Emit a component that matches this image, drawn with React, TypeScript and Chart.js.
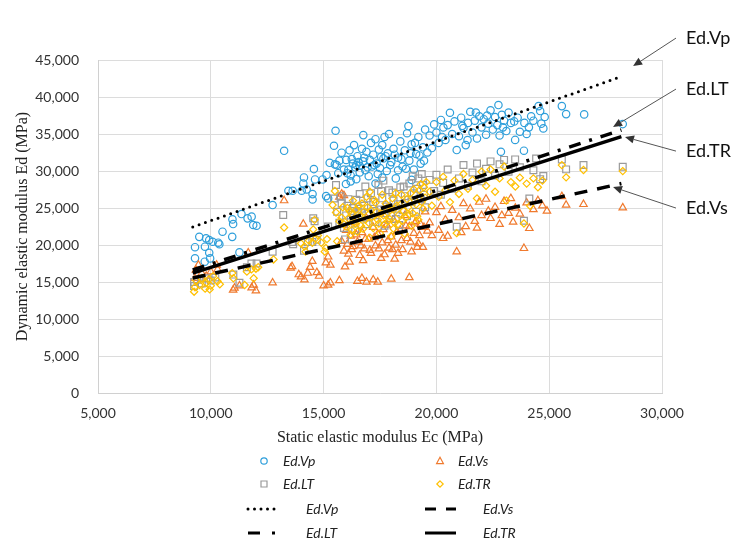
import React, { useEffect, useRef } from "react";
import { Chart, registerables } from "chart.js";

Chart.register(...registerables);

// ---------------- DATA ----------------
const xTickValues = [5000, 10000, 15000, 20000, 25000, 30000];
const yTickValues = [0, 5000, 10000, 15000, 20000, 25000, 30000, 35000, 40000, 45000];

const edVp: [number, number][] = [
  [9300,18200],[9300,19700],[9490,21100],[9740,19770],[9790,20900],[9930,20670],[10080,20440],[9930,18950],[9730,17740],[9970,18190],
  [10330,20310],[10380,20100],[10520,21800],[10950,21100],[10960,23460],[10990,22830],[11360,24180],[11630,23600],[11810,23830],[11880,22700],
  [12030,22600],[11270,19000],[12740,25400],[13250,32730],[13440,27330],[13630,27330],[14030,27330],[14130,29130],[14100,28320],[14250,27510],
  [14510,26880],[14510,26160],[14570,30260],[14620,28860],[14960,28860],[15130,29450],[15110,26610],[15200,26300],[15460,33410],[15530,35440],
  [15270,31110],[15580,30800],[15800,32470],[15700,31400],[15500,30900],[15900,30200],[15650,29700],[15990,28240],
  [16000,31500],[16100,30200],[16150,32800],[16200,29400],[16300,31000],[16350,33500],[16400,30500],[16450,28900],[16500,32000],[16550,31200],
  [16600,29800],[16700,33000],[16760,34850],[16800,31800],[16850,30100],[16900,32600],[17000,29300],[17050,31500],[17100,33800],[17150,30600],
  [17200,32200],[17300,34300],[17350,31000],[17400,29600],[17450,32900],[17500,30400],[17600,33500],[17650,31700],[17700,34600],[17800,30000],
  [17850,32400],[17900,35000],[18000,31200],[18100,33000],[18200,29000],[18300,31800],[18400,34000],[18500,30600],[18600,32800],[18760,36070],
  [18700,35100],[18800,31400],[18900,33600],[19000,30200],[19100,32300],[19200,34600],[19300,31000],[19400,33200],[19500,35600],
  [16200,28600],[17300,28300],[18900,28800],[17600,29100],[16600,30700],[18300,30100],
  [16050,29700],[16250,31600],[16450,30800],[16750,31300],[16950,30500],[17250,30800],[17550,31900],[17750,32000],[17950,30800],[18150,32200],
  [18450,31600],[18650,30300],[18850,32400],[19050,33800],[19250,32100],[19450,31400],[19600,32500],
  [19700,34800],[19800,33100],[19900,36300],[20000,35200],[20100,33800],[20200,36900],[20310,35880],[20400,34200],[20600,37870],[20500,36200],
  [20700,35000],[20900,32830],[20800,36700],[21000,34700],[21100,37200],[21200,35800],[21380,34180],[21300,33500],[21400,36500],[21500,38000],
  [21600,35200],[21700,36800],[21800,34400],[21900,37400],[22000,35900],[22100,37000],[22200,34900],[22300,36400],[22400,38200],[22500,35600],
  [22600,37300],[22750,38910],[22700,36200],[22860,32600],[22800,34800],
  [20250,34600],[21150,36100],[21750,37900],[22250,37500],[22950,35900],[23450,36700],[24200,37400],
  [22900,37600],[23000,36800],[23100,35400],[23200,37900],[23300,36500],[23490,34200],[23600,37200],[23700,35300],[23880,32740],[23900,36500],
  [24000,35000],[24100,35900],[24300,36800],[24530,38770],[24600,38100],[24740,35760],[24800,37300],[24650,36400],
  [25560,38770],[25750,37690],[26550,37650],[28260,36340]
];

const edLT: [number, number][] = [
  [9260,14460],[9260,15000],[9400,15300],[9600,14800],[9800,15500],[10000,15200],[10200,15600],[11270,14900],[11000,16000],[11600,17000],
  [12030,17510],[11800,17500],[12740,19090],[13210,24050],[13600,20400],[13650,20100],[14130,19230],[14300,20400],[14500,20400],[14700,20700],
  [14540,23600],[14600,23200],[15460,26290],[15550,28100],[15200,22500],[15950,20760],
  [15600,24500],[15700,23000],[15800,25600],[15900,22300],[16000,24000],[16100,26200],[16200,23400],[16300,25000],[16400,22000],[16500,24600],
  [16600,26900],[16700,23700],[16800,25300],[16900,22800],[17000,24300],[17100,27000],[17200,25800],[17300,23100],[17430,28100],[17500,24800],
  [17600,26300],[17700,22600],[17800,25200],[17900,27400],[18000,24000],[18100,26000],[18200,23500],[18300,25500],[18400,27800],[18500,24700],
  [18600,26600],[18700,23900],[18800,28300],[18900,25800],[19000,27000],[19100,24500],[19200,29000],[19300,26200],[19400,28100],[19500,25100],
  [16050,25300],[16250,24600],[16450,26100],[16650,24900],[16950,26300],[17250,24600],[17550,27300],[17750,24300],[18050,27100],[18250,24900],
  [18550,27900],[18750,26100],[18950,29300],[19150,27600],[19350,29600],[19450,26800],[15750,26600],[16850,27900],[17650,28700],[18350,22700],
  [19700,28800],[19900,27300],[20000,29500],[20200,26800],[20300,28400],[20500,30200],[20700,27600],[20900,22470],[21000,29000],[21200,30800],
  [21400,28000],[21600,29800],[21800,31000],[22000,28600],[22200,30300],[22400,31300],[22600,29400],[22800,30900],[23000,31500],[23200,29900],
  [23490,31570],[23700,30500],[23880,23270],[24120,26290],[24420,31700],[24300,30100],[24740,29320],[24600,28900],
  [25560,31570],[25750,30220],[26520,30800],[28260,30580]
];

const edTR: [number, number][] = [
  [9260,13690],[9300,14300],[9350,15200],[9500,14600],[9600,15500],[9750,14100],[9800,14900],[9900,15300],[9950,14000],[10000,14500],
  [10100,15800],[10300,15100],[10400,14700],
  [10950,16200],[11000,15500],[11500,14600],[11600,16400],[11800,16700],[11900,15500],[12000,16800],[12100,17000],[12780,18050],[13250,22370],
  [14540,22100],[14600,23400],[14000,20200],[14150,19800],[14200,19100],[14350,20600],[14500,20300],[14650,20900],[14750,21300],[14900,20300],
  [15050,19100],[15100,19600],[15150,20800],
  [15400,25400],[15500,27300],[15550,24400],[15700,23200],[15800,23700],[15900,22800],[15600,20500],
  [16000,22500],[16050,25000],[16100,23600],[16200,21400],[16250,24200],[16300,26000],[16400,22900],[16450,24800],[16500,21800],[16600,23900],
  [16700,25600],[16750,22200],[16800,24500],[16900,26500],[17000,23000],[17050,21000],[17100,24700],[17200,22300],[17300,25700],[17400,23400],
  [17500,21600],[17550,24300],[17600,26800],[17700,22800],[17800,25000],[17900,23600],[18000,21200],[18100,24800],[18200,27000],[18300,22800],
  [18400,25400],[18500,23300],[18600,21500],[18700,26200],[18800,24100],[18900,22600],[19000,27500],[19100,25500],[19200,23400],[19300,28200],
  [19400,24900],[19500,26400],
  [16150,24600],[16350,23100],[16550,25300],[16650,22600],[16850,23400],[16950,25100],[17150,23800],[17250,26100],[17350,24500],[17450,22900],
  [17650,24000],[17750,25600],[17850,23200],[17950,24700],[18050,26300],[18150,23000],[18250,25300],[18350,24100],[18450,26800],[18550,24600],
  [18650,23700],[18750,25100],[18850,27000],[18950,24300],[19050,26000],[19150,23900],[19250,27400],[19350,25800],[19450,27800],[15850,25100],
  [16250,22000],[17050,27200],[18100,22200],[19550,28500],
  [19700,27200],[19800,25300],[20000,28500],[20100,26500],[20300,29200],[20400,27400],[20600,25800],[20800,28700],[20900,21600],[21000,26900],
  [21200,29600],[21400,27600],[21600,28800],[21800,26300],[22000,29900],[22200,28000],[22400,30200],[22600,27200],[22800,29000],[23000,30600],
  [23100,26000],[23300,28500],[23500,27900],[23700,29100],[23880,22910],[24000,28300],[24150,25310],[24300,29000],[24500,27800],[24700,28700],
  [25560,30800],[25750,29140],[26520,30130],[28260,29990]
];

const edVs: [number, number][] = [
  [9300,15500],[9340,16620],[9450,17290],[9600,16200],[9800,15800],[10000,16400],[10260,17290],[10300,16700],[10990,13910],[11050,14200],
  [11270,14500],[11660,18950],[11810,14230],[12000,13820],[11900,14600],[12740,14900],[13250,26000],[14100,22830],
  [13540,16890],[13600,17100],[13900,16000],[14000,15700],[14150,15300],[14300,16200],[14400,17000],[14500,17800],[14700,16300],[14800,15800],
  [15000,14500],[15200,14600],[15300,14900],[15100,17600],[15200,18400],[15300,17300],
  [15700,26500],[15900,26700],[15800,26900],[15950,17060],[15700,15200],[16500,15100],[16700,15500],[16900,15000],[17200,15300],[17400,15000],
  [18000,15400],[18800,15600],
  [15800,20500],[15900,19200],[16000,22000],[16100,18800],[16200,21200],[16300,19800],[16400,23000],[16500,20400],[16600,18600],[16700,21700],
  [16800,19500],[16900,23600],[17000,20800],[17100,18900],[17200,22400],[17300,19900],[17400,21500],[17500,24200],[17600,20300],[17700,18700],
  [17800,22700],[17900,19600],[18000,21100],[18100,23400],[18200,20000],[18300,18900],[18400,22000],[18500,19400],[18600,24000],[18700,20900],
  [18800,22500],[18900,19100],[19000,21600],[19100,23200],[19200,20200],[19300,22800],[19400,19700],[19500,24500],
  [16050,20100],[16250,19400],[16450,21400],[16650,19900],[16850,20800],[17050,19300],[17250,21000],[17450,19500],[17650,22100],[17850,20600],
  [18050,19400],[18250,21800],[18450,20600],[18650,22600],[18850,20400],[19050,23000],[19250,21300],[19450,22400],[16150,17700],[16750,17900],
  [17550,18200],[18150,18100],[19150,19700],[19600,21900],[20300,20900],[21100,21700],[21800,22300],[22300,24600],[22900,24000],[23400,23100],
  [19700,23000],[19800,21300],[20000,24400],[20100,22000],[20200,25200],[20400,23400],[20500,21200],[20700,24700],[20900,19090],[21000,23700],
  [21200,25600],[21300,22500],[21500,24900],[21700,23200],[21900,25800],[22000,24000],[22200,26200],[22400,23600],[22600,25100],[22800,22800],
  [23000,25900],[23200,24300],[23300,26300],[23500,25000],[23700,24200],[23880,19550],[24000,25700],[24120,22250],[24300,24800],[24500,26000],
  [24700,25300],[24900,24600],[25560,26560],[25750,25400],[26520,25490],[28260,25040]
];

// trend lines: x range and y at start / end
const trendX = [9200, 28200];
const trendVp = [22430, 42760];
const trendLT = [16620, 35540];
const trendTR = [16200, 34650];
const trendVs = [15540, 28300];

// callouts on the right: label, arrow tip (data values), arrow tail (data values)
const calloutLabels = ["Ed.Vp", "Ed.LT", "Ed.TR", "Ed.Vs"];
const calloutTips: [number, number][] = [[28720, 44180], [27830, 35940], [28360, 34590], [27830, 27830]];
const calloutTails: [number, number][] = [[30620, 47960], [30620, 41070], [30620, 32690], [30620, 24990]];

// ---------------- STYLE ----------------
const BLUE = "#2E9FDB";
const ORANGE = "#F07A2E";
const GRAY = "#9A9A9A";
const YELLOW = "#FFC000";

const DOT = [0, 6.7];
const DASHDOT = [12, 9, 3, 9];
const DASH = [13, 10];

function trendData(ys: number[]) {
  return trendX.map((x, i) => ({ x, y: ys[i] }));
}
function pts(arr: [number, number][]) {
  return arr.map(([x, y]) => ({ x, y }));
}

function drawMarker(ctx: CanvasRenderingContext2D, style: string, x: number, y: number, r: number, color: string) {
  ctx.save();
  ctx.strokeStyle = color;
  ctx.lineWidth = 1.2;
  ctx.beginPath();
  if (style === "circle") {
    ctx.arc(x, y, r, 0, Math.PI * 2);
  } else if (style === "rect") {
    ctx.rect(x - r, y - r, 2 * r, 2 * r);
  } else if (style === "triangle") {
    ctx.moveTo(x, y - r * 1.1);
    ctx.lineTo(x + r, y + r * 0.75);
    ctx.lineTo(x - r, y + r * 0.75);
    ctx.closePath();
  } else if (style === "diamond") {
    ctx.moveTo(x, y - r);
    ctx.lineTo(x + r, y);
    ctx.lineTo(x, y + r);
    ctx.lineTo(x - r, y);
    ctx.closePath();
  }
  ctx.stroke();
  ctx.restore();
}

const legendPoints = [
  { label: "Ed.Vp", style: "circle", color: BLUE, col: 0, row: 0 },
  { label: "Ed.Vs", style: "triangle", color: ORANGE, col: 1, row: 0 },
  { label: "Ed.LT", style: "rect", color: GRAY, col: 0, row: 1 },
  { label: "Ed.TR", style: "diamond", color: YELLOW, col: 1, row: 1 },
];
const legendLines = [
  { label: "Ed.Vp", dash: [0, 6.5], cap: "round", col: 0, row: 2 },
  { label: "Ed.Vs", dash: [11, 10], cap: "butt", col: 1, row: 2 },
  { label: "Ed.LT", dash: [12, 12, 3, 20], cap: "butt", col: 0, row: 3 },
  { label: "Ed.TR", dash: [], cap: "butt", col: 1, row: 3 },
];

const overlayPlugin = {
  id: "overlay",
  afterDraw(chart: any) {
    const { ctx, scales } = chart;
    const xs = scales.x;
    const ys = scales.y;
    // callouts
    ctx.save();
    for (let i = 0; i < calloutLabels.length; i++) {
      const tx = xs.getPixelForValue(calloutTips[i][0]);
      const ty = ys.getPixelForValue(calloutTips[i][1]);
      const sx = xs.getPixelForValue(calloutTails[i][0]);
      const sy = ys.getPixelForValue(calloutTails[i][1]);
      const ang = Math.atan2(ty - sy, tx - sx);
      const L = 9, W = 4;
      const bx = tx - Math.cos(ang) * L;
      const by = ty - Math.sin(ang) * L;
      ctx.strokeStyle = "#555";
      ctx.lineWidth = 1;
      ctx.beginPath();
      ctx.moveTo(sx, sy);
      ctx.lineTo(bx, by);
      ctx.stroke();
      ctx.fillStyle = "#333";
      ctx.beginPath();
      ctx.moveTo(tx, ty);
      ctx.lineTo(bx + Math.sin(ang) * W, by - Math.cos(ang) * W);
      ctx.lineTo(bx - Math.sin(ang) * W, by + Math.cos(ang) * W);
      ctx.closePath();
      ctx.fill();
      ctx.fillStyle = "#111";
      ctx.font = "18px Lato";
      ctx.textAlign = "left";
      ctx.textBaseline = "middle";
      ctx.fillText(calloutLabels[i], sx + 10, sy);
    }
    ctx.restore();

    // legend
    const cx = (chart.chartArea.left + chart.chartArea.right) / 2;
    const rowY = [461, 484, 509, 533];
    const markerX = [cx - 116, cx + 60];
    const textX = [cx - 97, cx + 78];
    const lineX0 = [cx - 132, cx + 45];
    const lineTextX = [cx - 74, cx + 103];
    ctx.save();
    ctx.font = "italic 14px Lato";
    ctx.textBaseline = "middle";
    ctx.textAlign = "left";
    ctx.fillStyle = "#222";
    for (const it of legendPoints) {
      const r = it.style === "rect" ? 3 : it.style === "triangle" ? 3.4 : 3.2;
      drawMarker(ctx, it.style, markerX[it.col], rowY[it.row], r, it.color);
      ctx.fillText(it.label, textX[it.col], rowY[it.row]);
    }
    for (const it of legendLines) {
      const y = rowY[it.row];
      ctx.save();
      ctx.strokeStyle = "#000";
      ctx.lineWidth = 3;
      ctx.lineCap = it.cap as CanvasLineCap;
      ctx.setLineDash(it.dash);
      ctx.beginPath();
      ctx.moveTo(lineX0[it.col], y);
      ctx.lineTo(lineX0[it.col] + 31, y);
      ctx.stroke();
      ctx.restore();
      ctx.fillText(it.label, lineTextX[it.col], y);
    }
    ctx.restore();
  },
};

export default function App() {
  const ref = useRef<HTMLCanvasElement | null>(null);

  useEffect(() => {
    if (!ref.current) return;
    const tickFont = { family: "Lato", size: 14 };
    const titleFont = { family: "Liberation Serif", size: 16 };
    const chart = new Chart(ref.current, {
      type: "scatter",
      data: {
        datasets: [
          { label: "Ed.Vp trend", data: trendData(trendVp), showLine: true, pointRadius: 0, borderColor: "#000", borderWidth: 3, borderDash: DOT, borderCapStyle: "round" },
          { label: "Ed.LT trend", data: trendData(trendLT), showLine: true, pointRadius: 0, borderColor: "#000", borderWidth: 3.5, borderDash: DASHDOT, borderCapStyle: "butt" },
          { label: "Ed.Vs trend", data: trendData(trendVs), showLine: true, pointRadius: 0, borderColor: "#000", borderWidth: 3.5, borderDash: DASH, borderCapStyle: "butt" },
          { label: "Ed.TR trend", data: trendData(trendTR), showLine: true, pointRadius: 0, borderColor: "#000", borderWidth: 3.5 },
          { label: "Ed.TR", data: pts(edTR), pointStyle: "rectRot", pointRadius: 3.6, borderColor: YELLOW, backgroundColor: "rgba(0,0,0,0)", borderWidth: 1.2 },
          { label: "Ed.LT", data: pts(edLT), pointStyle: "rect", pointRadius: 4.8, borderColor: GRAY, backgroundColor: "rgba(0,0,0,0)", borderWidth: 1.2 },
          { label: "Ed.Vs", data: pts(edVs), pointStyle: "triangle", pointRadius: 4.3, borderColor: ORANGE, backgroundColor: "rgba(0,0,0,0)", borderWidth: 1.2 },
          { label: "Ed.Vp", data: pts(edVp), pointStyle: "circle", pointRadius: 3.7, borderColor: BLUE, backgroundColor: "rgba(0,0,0,0)", borderWidth: 1.2 },
        ],
      },
      options: {
        responsive: false,
        animation: false,
        events: [],
        layout: { padding: { left: 0, top: 60, right: 77, bottom: 110 } },
        plugins: { legend: { display: false }, tooltip: { enabled: false } },
        scales: {
          x: {
            type: "linear",
            min: xTickValues[0],
            max: xTickValues[xTickValues.length - 1],
            afterBuildTicks: (s: any) => { s.ticks = xTickValues.map((v) => ({ value: v })); },
            ticks: { padding: 12, font: tickFont, color: "#333" },
            grid: { color: "#dcdcdc", drawTicks: false },
            border: { color: "#d0d0d0" },
            title: { display: true, text: "Static elastic modulus Ec (MPa)", font: titleFont, color: "#222", padding: { top: 0, bottom: 2 } },
            afterFit: (s: any) => { s.height = 56; },
          },
          y: {
            type: "linear",
            min: yTickValues[0],
            max: yTickValues[yTickValues.length - 1],
            afterBuildTicks: (s: any) => { s.ticks = yTickValues.map((v) => ({ value: v })); },
            ticks: { padding: 19, font: tickFont, color: "#333" },
            grid: { color: "#dcdcdc", drawTicks: false },
            border: { color: "#d0d0d0" },
            title: { display: true, text: "Dynamic elastic modulus Ed (MPa)", font: titleFont, color: "#222", padding: { top: 13, bottom: 0 } },
            afterFit: (s: any) => { s.width = 98; },
          },
        },
      } as any,
      plugins: [overlayPlugin],
    } as any);
    return () => chart.destroy();
  }, []);

  return (
    <div style={{ position: "fixed", left: 0, top: 0, width: 739, height: 559, background: "#fff" }}>
      <canvas ref={ref} width={739} height={559} style={{ display: "block", width: 739, height: 559 }} />
    </div>
  );
}
